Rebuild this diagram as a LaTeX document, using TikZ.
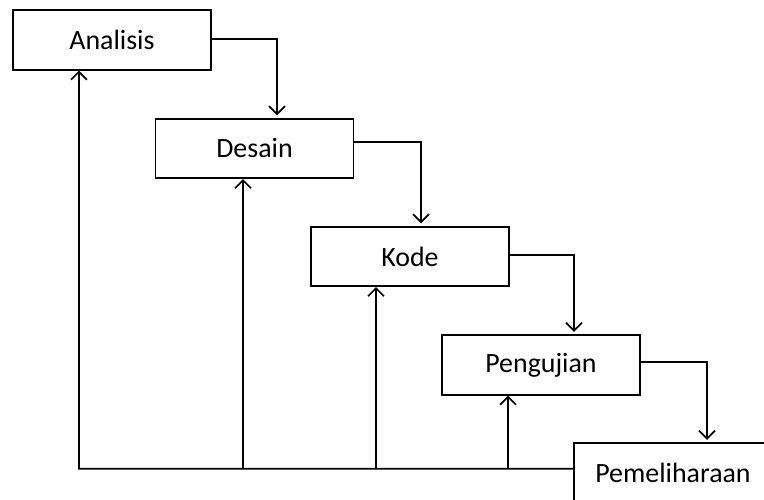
\documentclass[tikz,border=0pt]{standalone}
\usepackage{fontspec}
\setmainfont{Carlito}
\usetikzlibrary{arrows.meta,calc}
\tikzset{
  phase/.style={draw,line width=1.3pt,minimum width=5.24cm,minimum height=1.57cm,
    inner sep=0pt,font=\fontsize{21}{24}\selectfont},
  flow/.style={line width=1.3pt,-{Straight Barb[width=12pt,length=6pt,line width=1.3pt]}},
}
\begin{document}
\begin{tikzpicture}
\useasboundingbox (0,0) rectangle (20.214,13.203);
% phases
\node[phase] (analisis) at (2.963,12.144) {Analisis};
\node[phase] (desain) at (6.734,9.274) {Desain};
\node[phase] (kode) at (10.848,6.416) {Kode};
\node[phase] (pengujian) at (14.314,3.545) {Pengujian};
\node[phase] (pemeliharaan) at (17.806,0.688) {Pemeliharaan};
% feed forward
\draw[flow,shorten >=2pt] ($(analisis.east)+(0,0.03)$) -| ($(desain.north)+(0.595,0)$);
\draw[flow,shorten >=2pt] ($(desain.east)+(0,0.17)$) -| ($(kode.north)+(0.291,0)$);
\draw[flow,shorten >=2pt] ($(kode.east)+(0,0.04)$) -| ($(pengujian.north)+(0.873,0)$);
\draw[flow,shorten >=2pt] ($(pengujian.east)+(0,0.08)$) -| ($(pemeliharaan.north)+(0.9,0)$);
% feedback
\coordinate (back) at (2.090,0.800);
\coordinate (a-in) at ($(analisis.south)+(-0.873,0)$);
\coordinate (d-in) at ($(desain.south)+(-0.304,0)$);
\coordinate (k-in) at ($(kode.south)+(-0.9,0)$);
\coordinate (p-in) at ($(pengujian.south)+(-0.873,0)$);
\draw[flow] (pemeliharaan.west |- back) -- (back) -- (a-in);
\draw[flow] (d-in |- back) -- (d-in);
\draw[flow] (k-in |- back) -- (k-in);
\draw[flow] (p-in |- back) -- (p-in);
\end{tikzpicture}
\end{document}
